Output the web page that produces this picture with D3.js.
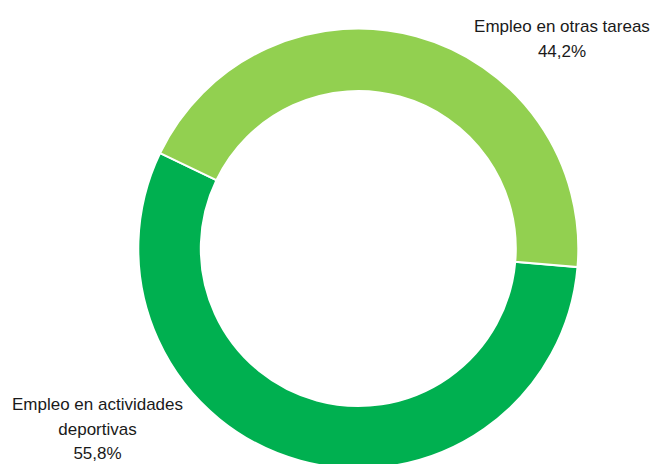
<!DOCTYPE html>
<html>
<head>
  <meta charset="utf-8">
  <script src="https://d3js.org/d3.v7.min.js"></script>
  <style>
    body { margin: 0; background: #fff; }
    .lbl { font-family: "Liberation Sans", Arial, sans-serif; font-size: 17px; fill: #1a1a1a; }
  </style>
</head>
<body>
  <div id="chart"></div>
  <script>
// datos
const categories = ["Empleo en actividades deportivas", "Empleo en otras tareas"];
const values = [55.8, 44.2];
const labelLines = [["Empleo en actividades", "deportivas", "55,8%"], ["Empleo en otras tareas", "44,2%"]];
const colors = ["#00B050", "#92D050"];

const width = 655, height = 464;
const cx = 358.3, cy = 248.5;
const outerR = 220, innerR = 157.5;
// posiciones de las etiquetas (centro del texto, primera línea base)
const labelPos = [[97.5, 410], [562, 32]];
const lineH = 24.5;

const svg = d3.select("#chart").append("svg")
  .attr("width", width)
  .attr("height", height);

const start = 94.84 * Math.PI / 180;
const pie = d3.pie().sort(null).startAngle(start).endAngle(start + 2 * Math.PI);
const arc = d3.arc().innerRadius(innerR).outerRadius(outerR);

svg.append("g")
  .attr("transform", `translate(${cx},${cy})`)
  .selectAll("path")
  .data(pie(values))
  .join("path")
    .attr("d", arc)
    .attr("fill", (d, i) => colors[i])
    .attr("stroke", "#fff")
    .attr("stroke-width", 2);

const lbl = svg.append("g")
  .selectAll("text")
  .data(labelLines)
  .join("text")
    .attr("class", "lbl")
    .attr("text-anchor", "middle")
    .attr("x", (d, i) => labelPos[i][0])
    .attr("y", (d, i) => labelPos[i][1]);

lbl.selectAll("tspan")
  .data((d, i) => d.map(t => ({ t, i })))
  .join("tspan")
    .attr("x", d => labelPos[d.i][0])
    .attr("dy", (d, j) => j === 0 ? 0 : lineH)
    .text(d => d.t);
  </script>
</body>
</html>
